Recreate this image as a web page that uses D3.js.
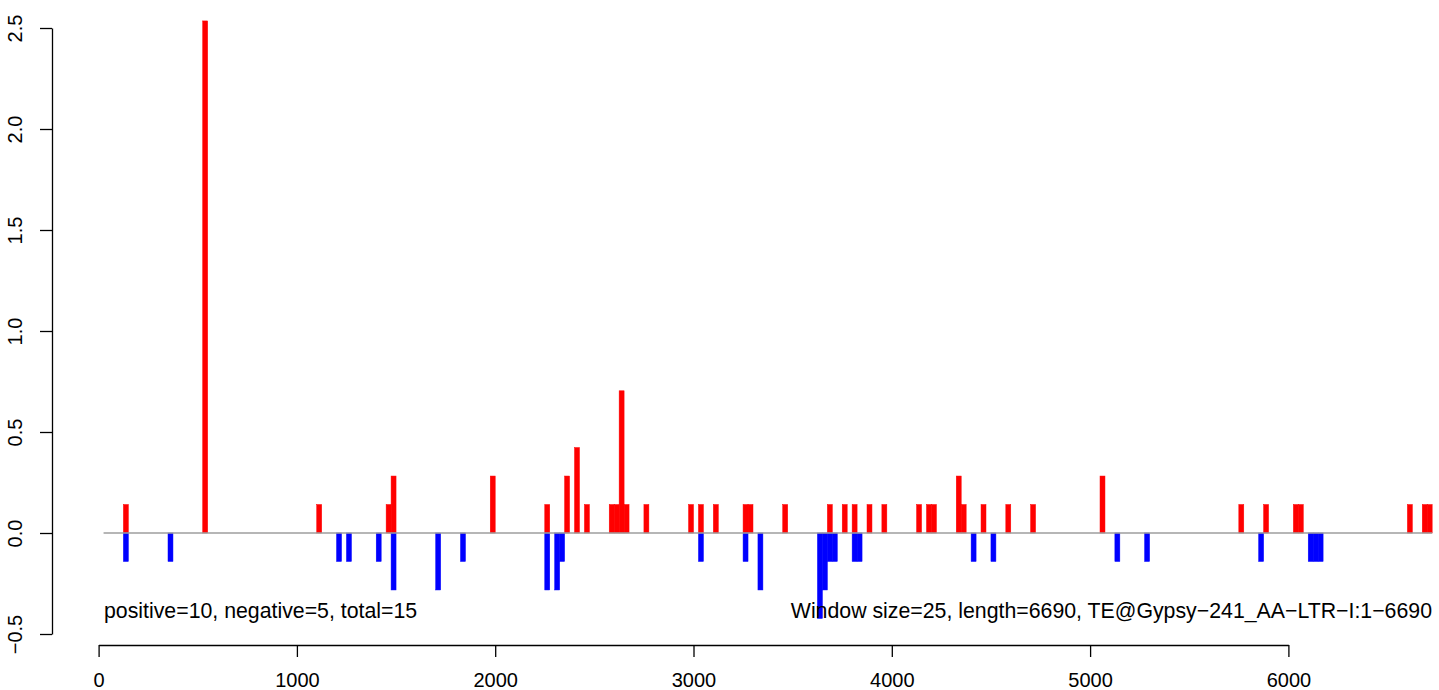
<!DOCTYPE html>
<html>
<head>
<meta charset="utf-8">
<script src="https://cdn.jsdelivr.net/npm/d3@7"></script>
<style>
  html, body { margin: 0; padding: 0; background: #ffffff; }
  svg { display: block; }
  text { font-family: "Liberation Sans", Arial, Helvetica, sans-serif; fill: #000; }
</style>
</head>
<body>
<svg id="chart" width="1439" height="690"></svg>
<script>
// ---- data (window start positions in bp, values) ----
const windowSize = 25;
const seqLength = 6690;
const positiveStarts = [125, 525, 1100, 1450, 1475, 1975, 2250, 2350, 2400, 2450,
  2575, 2600, 2625, 2650, 2750, 2975, 3025, 3100, 3250, 3275,
  3450, 3675, 3750, 3800, 3875, 3950, 4125, 4175, 4200, 4325,
  4350, 4450, 4575, 4700, 5050, 5750, 5875, 6025, 6050, 6600,
  6675, 6700];
const positiveValues = [0.141, 2.535, 0.141, 0.141, 0.282, 0.282, 0.141, 0.282, 0.423, 0.141,
  0.141, 0.141, 0.704, 0.141, 0.141, 0.141, 0.141, 0.141, 0.141, 0.141,
  0.141, 0.141, 0.141, 0.141, 0.141, 0.141, 0.141, 0.141, 0.141, 0.282,
  0.141, 0.141, 0.141, 0.141, 0.282, 0.141, 0.141, 0.141, 0.141, 0.141,
  0.141, 0.141];
const negativeStarts = [125, 350, 1200, 1250, 1400, 1475, 1700, 1825, 2250, 2300,
  2325, 3025, 3250, 3325, 3625, 3650, 3675, 3700, 3800, 3825,
  4400, 4500, 5125, 5275, 5850, 6100, 6125, 6150];
const negativeValues = [-0.141, -0.141, -0.141, -0.141, -0.141, -0.282, -0.282, -0.141, -0.282, -0.282,
  -0.141, -0.141, -0.141, -0.282, -0.423, -0.282, -0.141, -0.141, -0.141, -0.141,
  -0.141, -0.141, -0.141, -0.141, -0.141, -0.141, -0.141, -0.141];
const xTicks = [0, 1000, 2000, 3000, 4000, 5000, 6000];
const yTicks = [-0.5, 0.0, 0.5, 1.0, 1.5, 2.0, 2.5];
const baselineRange = [25, 6725];
const leftNote = "positive=10, negative=5, total=15";
const rightNote = "Window size=25, length=6690, TE@Gypsy\u2212241_AA\u2212LTR\u2212I:1\u22126690";

// ---- scales ----
const svg = d3.select("#chart");
const x = d3.scaleLinear().domain([0, 6000]).range([98.6, 1288.4]);
const y = d3.scaleLinear().domain([-0.5, 2.5]).range([634, 28]);
const axisX = 52, axisY = 645, tick = 12;
const fmtY = v => d3.format(".1f")(v).replace("-", "\u2212");

// ---- bars ----
const pos = positiveStarts.map((s, i) => ({s, v: positiveValues[i]}));
const neg = negativeStarts.map((s, i) => ({s, v: negativeValues[i]}));

svg.append("g").selectAll("rect").data(pos).join("rect")
  .attr("x", d => x(d.s))
  .attr("width", d => x(d.s + windowSize) - x(d.s))
  .attr("y", d => y(d.v))
  .attr("height", d => y(0) - y(d.v))
  .attr("fill", "#ff0000").attr("stroke", "#ff0000").attr("stroke-width", 0.5);

svg.append("g").selectAll("rect").data(neg).join("rect")
  .attr("x", d => x(d.s))
  .attr("width", d => x(d.s + windowSize) - x(d.s))
  .attr("y", d => y(0))
  .attr("height", d => y(d.v) - y(0))
  .attr("fill", "#0000ff").attr("stroke", "#0000ff").attr("stroke-width", 0.5);

// zero line
svg.append("line")
  .attr("x1", x(baselineRange[0])).attr("x2", x(baselineRange[1]))
  .attr("y1", y(0)).attr("y2", y(0))
  .attr("stroke", "#9e9e9e").attr("stroke-width", 1.5);

// ---- axes ----
const gx = svg.append("g").attr("transform", `translate(0,${axisY})`)
  .call(d3.axisBottom(x).tickValues(xTicks).tickSize(tick).tickSizeOuter(0).tickFormat(d3.format("d")));
gx.select(".domain").attr("stroke", "#000").attr("stroke-width", 1.3);
gx.selectAll(".tick line").attr("stroke", "#000").attr("stroke-width", 1.3);
gx.selectAll(".tick text").attr("font-size", 20).attr("font-family", "Liberation Sans, Arial, sans-serif")
  .attr("y", 42).attr("dy", 0);

const gy = svg.append("g").attr("transform", `translate(${axisX},0)`)
  .call(d3.axisLeft(y).tickValues(yTicks).tickSize(tick).tickSizeOuter(0).tickFormat(fmtY));
gy.select(".domain").attr("stroke", "#000").attr("stroke-width", 1.3);
gy.selectAll(".tick line").attr("stroke", "#000").attr("stroke-width", 1.3);
gy.selectAll(".tick text").attr("font-size", 20).attr("font-family", "Liberation Sans, Arial, sans-serif")
  .attr("x", null).attr("dy", 0)
  .attr("text-anchor", "middle")
  .attr("transform", "translate(-30,0) rotate(-90)");

// ---- annotations ----
svg.append("text").attr("x", 104).attr("y", 618).attr("font-size", 21.3).text(leftNote);
svg.append("text").attr("x", 1432).attr("y", 618).attr("font-size", 21.3)
  .attr("text-anchor", "end").text(rightNote);
</script>
</body>
</html>
